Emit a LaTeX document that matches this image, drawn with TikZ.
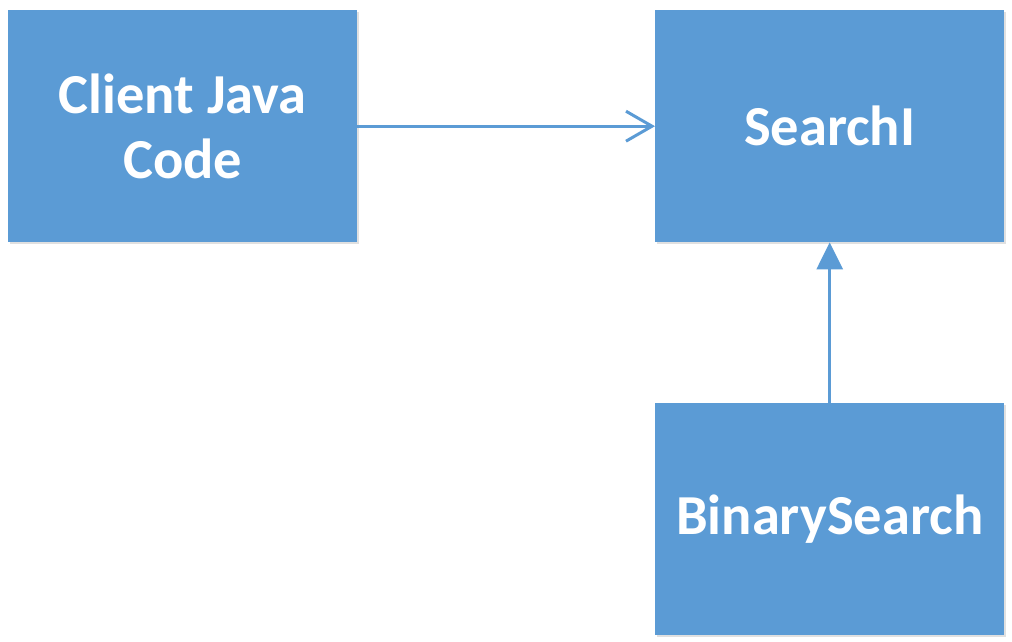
\documentclass[tikz,border=0pt]{standalone}
\usepackage{fontspec}
\setmainfont{Carlito}
\usetikzlibrary{arrows.meta,shadows}
\definecolor{boxblue}{HTML}{5B9BD5}
\begin{document}
\begin{tikzpicture}[x=1pt,y=-1pt,
  blk/.style={rectangle, fill=boxblue, draw=none, minimum width=349pt, minimum height=232pt,
    inner sep=0pt, anchor=north west, text=white, font=\fontsize{56.5}{65}\selectfont\bfseries,
    align=center, drop shadow={shadow xshift=2pt, shadow yshift=-2pt, fill=black, opacity=0.12}},
  conn/.style={draw=boxblue, line width=3pt}
]
\useasboundingbox (0,0) rectangle (1012,642);
\node[blk] (client) at (8,10) {Client Java\\Code};
\node[blk] (search) at (655,10) {SearchI};
\node[blk] (binary) at (655,403) {BinarySearch};
\draw[conn, -{Straight Barb[length=26pt,width=30pt,line width=3pt]}] (client.east) -- (search.west);
\draw[conn, -{Triangle[length=27pt,width=26pt]}] (binary.north) -- (search.south);
\end{tikzpicture}
\end{document}
